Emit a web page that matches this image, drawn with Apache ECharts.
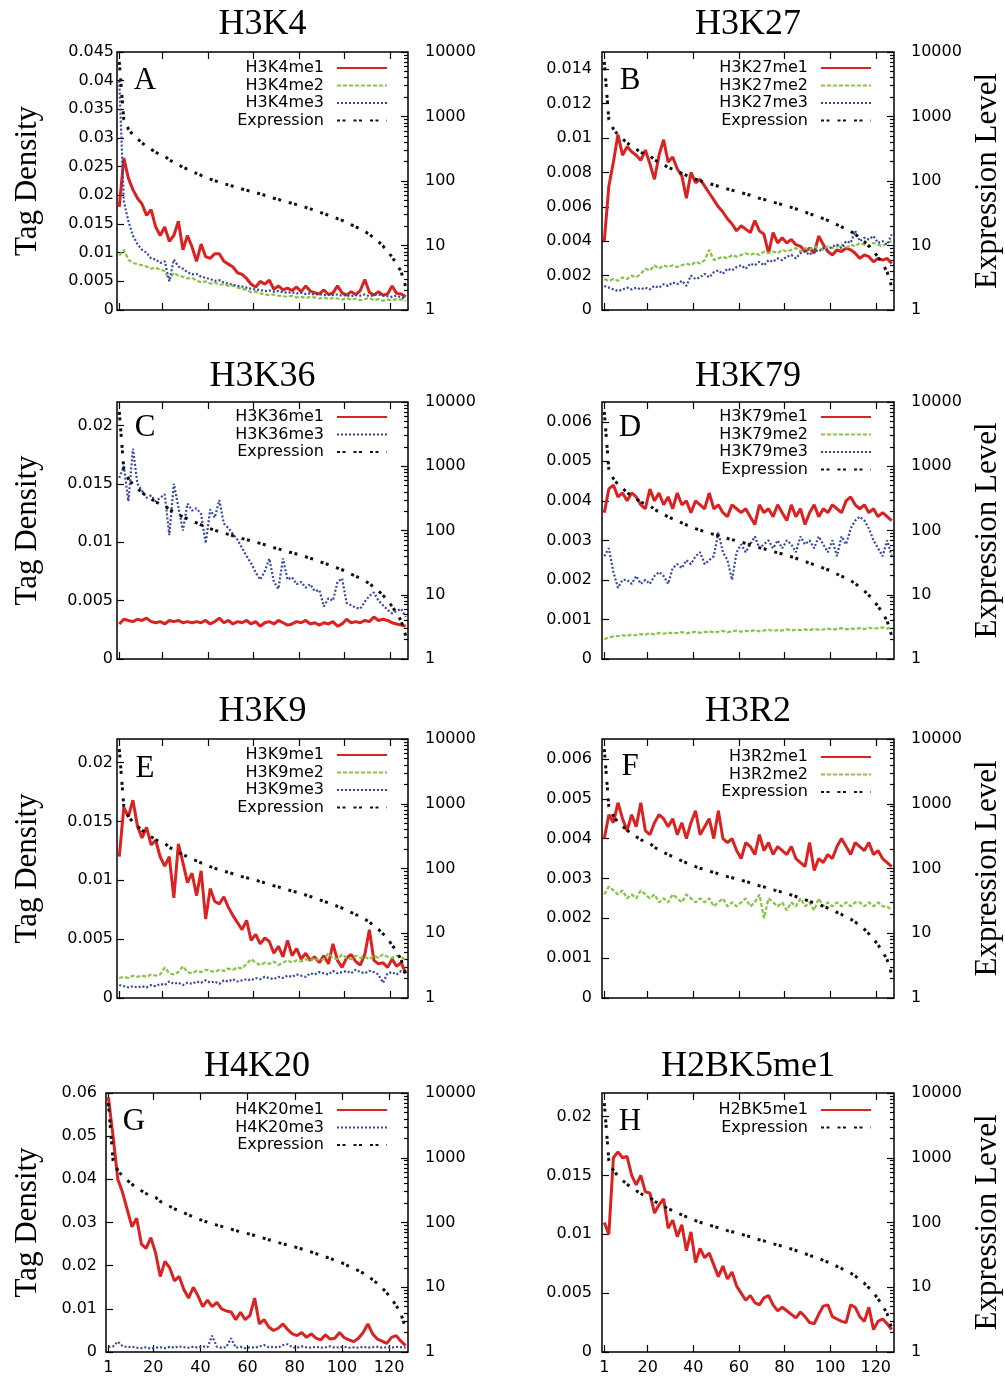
<!DOCTYPE html>
<html><head><meta charset="utf-8">
<script src="https://cdn.jsdelivr.net/npm/echarts@6/dist/echarts.min.js"></script>
<style>html,body{margin:0;padding:0;background:#fff}#c{width:1005px;height:1377px}</style>
</head><body><div id="c"></div>
<script>
// ---------- data ----------
const BIN_X = Array.from({length: 64}, (_, i) => 1 + 2 * i);   // gene-bin index (1..127)
const X_TICKS = [1, 20, 40, 60, 80, 100, 120];
const EXPR_MINOR_TICKS = [2,3,4,5,6,7,8,9,20,30,40,50,60,70,80,90,200,300,400,500,600,700,800,900,2000,3000,4000,5000,6000,7000,8000,9000];

const EXPRESSION = [7000,900,640,520,450,390,345,310,280,255,245,212,195,178,163,152,141,131,122,114,107,101,96,91,87,83,79,75,72,69,66,63,60,57,54,52,49,47,45,43,41,39,37,35,33,31,29.5,28,26,24.5,23,21,19.5,18,16.5,15,13,11.5,9.8,8.2,6.6,5.2,3.9,2.3];

const H3K4me1 = [0.018,0.0265,0.023,0.021,0.0195,0.0185,0.0165,0.0175,0.0145,0.013,0.0145,0.012,0.013,0.0155,0.0105,0.013,0.011,0.0085,0.0115,0.0093,0.009,0.0098,0.0098,0.0085,0.008,0.0075,0.0065,0.0062,0.0055,0.0045,0.004,0.005,0.0045,0.0052,0.0036,0.0042,0.0035,0.0038,0.0034,0.004,0.0032,0.0042,0.0033,0.003,0.0028,0.0035,0.0027,0.003,0.0042,0.003,0.0026,0.0032,0.0027,0.0034,0.0053,0.0031,0.0026,0.0032,0.0026,0.0028,0.0042,0.0029,0.0028,0.0023];
const H3K4me2 = [0.0095,0.0105,0.0088,0.0082,0.008,0.0078,0.0076,0.0072,0.0074,0.007,0.0068,0.0052,0.0065,0.006,0.0058,0.0055,0.0056,0.0052,0.0048,0.005,0.0046,0.0048,0.0044,0.0045,0.0042,0.0043,0.0039,0.0037,0.0035,0.0031,0.0032,0.0029,0.0027,0.0026,0.0027,0.0025,0.0024,0.0023,0.0025,0.0022,0.0023,0.0021,0.0023,0.0022,0.002,0.0022,0.0019,0.0021,0.002,0.0018,0.0021,0.0018,0.002,0.0017,0.0019,0.0021,0.0017,0.0019,0.0016,0.0018,0.0017,0.0019,0.0018,0.0016];
const H3K4me3 = [0.040,0.019,0.0155,0.013,0.0115,0.0105,0.010,0.009,0.0088,0.0082,0.0085,0.005,0.0088,0.0076,0.0072,0.0066,0.0062,0.0063,0.0058,0.0056,0.0054,0.0051,0.0052,0.0048,0.0046,0.0044,0.0042,0.0041,0.0039,0.0037,0.0036,0.0035,0.0033,0.0034,0.0032,0.0033,0.0031,0.003,0.0031,0.0029,0.003,0.0028,0.0029,0.0027,0.0028,0.0026,0.0027,0.0026,0.0027,0.0025,0.0026,0.0024,0.0026,0.0025,0.0027,0.0024,0.0026,0.0027,0.0025,0.0024,0.0023,0.0025,0.0022,0.002];

const H3K27me1 = [0.004,0.0072,0.0086,0.0102,0.009,0.0095,0.0092,0.009,0.0087,0.0093,0.0085,0.0076,0.009,0.0099,0.0086,0.0089,0.0082,0.0078,0.0065,0.008,0.0074,0.0076,0.0072,0.0068,0.0064,0.006,0.0057,0.0053,0.005,0.0046,0.0049,0.0047,0.0045,0.0052,0.0046,0.0044,0.0033,0.0045,0.0039,0.0042,0.0039,0.0041,0.0038,0.0037,0.0034,0.0036,0.0033,0.0043,0.0038,0.0034,0.0032,0.0035,0.0034,0.0036,0.0035,0.0033,0.003,0.0032,0.0031,0.0028,0.003,0.0029,0.003,0.0027];
const H3K27me2 = [0.0018,0.0017,0.0018,0.0017,0.0019,0.0018,0.002,0.0019,0.0021,0.0024,0.0023,0.0026,0.0024,0.0026,0.0025,0.0026,0.0025,0.0026,0.0027,0.0026,0.0028,0.0027,0.0029,0.0035,0.0029,0.003,0.0031,0.003,0.0032,0.0031,0.0032,0.0033,0.0032,0.0033,0.0032,0.0034,0.0033,0.0034,0.0033,0.0035,0.0034,0.0035,0.0036,0.0034,0.0036,0.0035,0.0037,0.0036,0.0035,0.0037,0.0036,0.0037,0.0038,0.0036,0.0038,0.0037,0.0039,0.0038,0.0037,0.0039,0.0038,0.0037,0.0039,0.004];
const H3K27me3 = [0.0014,0.0013,0.0012,0.0011,0.0012,0.0013,0.0012,0.0013,0.0012,0.0013,0.0012,0.0014,0.0013,0.0015,0.0014,0.0016,0.0015,0.0017,0.0014,0.002,0.0018,0.0019,0.0021,0.0019,0.0022,0.0023,0.0021,0.0024,0.0023,0.0025,0.0026,0.0024,0.0027,0.0026,0.0028,0.0026,0.0029,0.0028,0.003,0.0029,0.0031,0.0032,0.003,0.0033,0.0034,0.0032,0.0035,0.0034,0.0036,0.0035,0.0037,0.0038,0.0036,0.004,0.0039,0.0046,0.004,0.0042,0.0041,0.0043,0.0039,0.004,0.0038,0.0044];

const H3K36me1 = [0.003,0.0034,0.0033,0.0032,0.0034,0.0033,0.0035,0.0032,0.0031,0.0032,0.003,0.0033,0.0032,0.0033,0.0031,0.0032,0.0031,0.0032,0.0031,0.0033,0.003,0.0032,0.0035,0.0031,0.0033,0.003,0.0032,0.0031,0.0033,0.003,0.0032,0.0028,0.0031,0.0032,0.003,0.0033,0.0031,0.0029,0.003,0.0032,0.0031,0.0033,0.003,0.0031,0.0029,0.0031,0.003,0.0032,0.0028,0.003,0.0034,0.0031,0.0032,0.0031,0.0033,0.0032,0.0036,0.0033,0.0034,0.0033,0.0031,0.003,0.0029,0.0028];
const H3K36me3 = [0.0155,0.0165,0.0135,0.018,0.015,0.0144,0.0138,0.014,0.0135,0.0138,0.0141,0.0106,0.015,0.013,0.011,0.0133,0.0127,0.0129,0.0124,0.0099,0.0128,0.0121,0.0136,0.0116,0.0112,0.0107,0.0102,0.0095,0.0088,0.0082,0.0074,0.0068,0.0075,0.0086,0.0066,0.006,0.0086,0.0068,0.007,0.0064,0.0066,0.0061,0.0064,0.0058,0.0059,0.0045,0.0052,0.005,0.0066,0.0069,0.0048,0.0046,0.0044,0.0043,0.0049,0.0054,0.0057,0.005,0.0046,0.0042,0.0039,0.0041,0.0043,0.0036];

const H3K79me1 = [0.0037,0.0043,0.0044,0.0041,0.0042,0.004,0.0042,0.0041,0.0039,0.0038,0.0043,0.004,0.0042,0.0039,0.0041,0.0038,0.0042,0.0039,0.004,0.0037,0.004,0.0039,0.0038,0.0042,0.0038,0.0039,0.0037,0.0036,0.0039,0.0038,0.0037,0.0038,0.0036,0.0034,0.0039,0.0037,0.0038,0.0036,0.0039,0.0037,0.0035,0.0039,0.0036,0.0038,0.0034,0.0037,0.0039,0.0036,0.0038,0.0037,0.0039,0.0038,0.0037,0.004,0.0041,0.0039,0.0038,0.0039,0.0037,0.0038,0.0036,0.0037,0.0036,0.0035];
const H3K79me2 = [0.0005,0.00055,0.00057,0.00058,0.0006,0.00058,0.00062,0.0006,0.00063,0.00062,0.00065,0.00062,0.00066,0.00064,0.00067,0.00065,0.00066,0.00068,0.00065,0.00067,0.00069,0.00066,0.00068,0.0007,0.00067,0.00069,0.00071,0.00068,0.0007,0.00072,0.00069,0.00071,0.0007,0.00073,0.0007,0.00072,0.00074,0.00071,0.00073,0.00072,0.00075,0.00072,0.00074,0.00073,0.00075,0.00073,0.00076,0.00074,0.00075,0.00077,0.00074,0.00076,0.00078,0.00075,0.00077,0.00076,0.00078,0.00076,0.00079,0.00077,0.00078,0.0008,0.00077,0.00079];
const H3K79me3 = [0.0026,0.0028,0.0022,0.0018,0.002,0.002,0.0019,0.0021,0.0019,0.002,0.0019,0.0021,0.0022,0.0021,0.0019,0.0023,0.0024,0.0023,0.0025,0.0024,0.0026,0.0027,0.0024,0.0025,0.0026,0.0032,0.0027,0.0025,0.002,0.0027,0.0029,0.0027,0.0029,0.0031,0.0028,0.0029,0.003,0.0028,0.003,0.0028,0.003,0.0029,0.0027,0.0031,0.0029,0.003,0.0028,0.0031,0.0029,0.0027,0.003,0.0026,0.0031,0.0029,0.0033,0.0035,0.0036,0.0035,0.0033,0.003,0.0028,0.0026,0.003,0.0026];

const H3K9me1 = [0.012,0.0162,0.0154,0.0168,0.0146,0.0136,0.0145,0.013,0.0134,0.012,0.0112,0.012,0.0085,0.0131,0.0115,0.0098,0.0106,0.0087,0.0108,0.0067,0.0093,0.0082,0.008,0.0086,0.0077,0.007,0.0064,0.0058,0.0066,0.0049,0.0054,0.0046,0.0051,0.0048,0.0038,0.0044,0.0035,0.0049,0.0036,0.0042,0.0033,0.0038,0.0032,0.0035,0.003,0.0036,0.0029,0.0046,0.0032,0.0026,0.0034,0.0037,0.0031,0.0028,0.0037,0.0058,0.0032,0.0029,0.003,0.0026,0.0033,0.0027,0.003,0.0021];
const H3K9me2 = [0.0017,0.0018,0.0017,0.0019,0.0018,0.0019,0.0018,0.002,0.0019,0.002,0.0026,0.0021,0.002,0.0022,0.0027,0.0022,0.0021,0.0023,0.0022,0.0024,0.0023,0.0022,0.0024,0.0023,0.0025,0.0024,0.0026,0.0025,0.0029,0.0033,0.003,0.0028,0.003,0.0029,0.0031,0.0028,0.003,0.0032,0.003,0.0032,0.0031,0.0033,0.0032,0.0034,0.0032,0.0033,0.0038,0.0034,0.0033,0.0037,0.0034,0.0033,0.0036,0.0034,0.0035,0.0033,0.0036,0.0034,0.0037,0.0035,0.0034,0.0036,0.0035,0.0032];
const H3K9me3 = [0.0011,0.001,0.0009,0.001,0.0009,0.001,0.0009,0.0011,0.001,0.0012,0.0011,0.0014,0.0012,0.0013,0.0011,0.0013,0.0012,0.0014,0.0013,0.0015,0.0013,0.0014,0.0012,0.0015,0.0014,0.0016,0.0014,0.0015,0.0016,0.0015,0.0017,0.0016,0.0018,0.0017,0.0016,0.0018,0.0017,0.0019,0.0018,0.002,0.0019,0.0018,0.0021,0.002,0.0022,0.0021,0.002,0.0023,0.0021,0.0022,0.0023,0.0021,0.0024,0.0022,0.0021,0.0023,0.0022,0.002,0.0013,0.0021,0.0022,0.002,0.0023,0.0021];

const H3R2me1 = [0.004,0.0046,0.0044,0.0049,0.0045,0.0042,0.0046,0.0043,0.0049,0.0042,0.0041,0.0044,0.0046,0.0045,0.0043,0.0045,0.0041,0.0044,0.004,0.0044,0.0047,0.0041,0.0043,0.0045,0.004,0.0047,0.004,0.0039,0.004,0.0037,0.0035,0.0039,0.0038,0.0036,0.0041,0.0037,0.0039,0.0036,0.0038,0.0037,0.0036,0.0038,0.0035,0.0034,0.0033,0.0039,0.0032,0.0035,0.0034,0.0036,0.0035,0.0038,0.004,0.0038,0.0036,0.0039,0.0038,0.0037,0.0039,0.0036,0.0037,0.0035,0.0034,0.0033];
const H3R2me2 = [0.0026,0.0028,0.0027,0.0026,0.0027,0.0025,0.0026,0.0025,0.0027,0.0026,0.0025,0.0026,0.0024,0.0025,0.0024,0.0026,0.0025,0.0024,0.0026,0.0025,0.0024,0.0025,0.0024,0.0025,0.0023,0.0024,0.0025,0.0023,0.0024,0.0023,0.0024,0.0025,0.0023,0.0024,0.0026,0.002,0.0025,0.0024,0.0023,0.0024,0.0022,0.0024,0.0023,0.0025,0.0023,0.0024,0.0022,0.0025,0.0023,0.0024,0.0023,0.0024,0.0023,0.0024,0.0023,0.0024,0.0024,0.0023,0.0024,0.0023,0.0024,0.0023,0.0023,0.0022];

const H4K20me1 = [0.059,0.05,0.04,0.037,0.033,0.029,0.031,0.025,0.024,0.0265,0.023,0.0175,0.021,0.0195,0.0165,0.0175,0.0145,0.0125,0.015,0.013,0.0105,0.012,0.0105,0.0115,0.01,0.0095,0.0093,0.0075,0.0092,0.0075,0.0085,0.0125,0.0065,0.0075,0.0058,0.005,0.0055,0.0065,0.0052,0.0042,0.0038,0.0045,0.0034,0.0042,0.0032,0.0028,0.004,0.003,0.0032,0.0045,0.0033,0.0028,0.0024,0.0032,0.0045,0.0065,0.0042,0.003,0.0025,0.002,0.0034,0.0038,0.0025,0.0015];
const H4K20me3 = [0.0012,0.0013,0.0024,0.0014,0.0011,0.0012,0.001,0.0009,0.0011,0.0008,0.001,0.0011,0.0009,0.0012,0.001,0.0013,0.0011,0.001,0.0012,0.001,0.0013,0.0011,0.0038,0.0012,0.001,0.0011,0.0032,0.001,0.0012,0.0009,0.0011,0.001,0.0013,0.0016,0.0011,0.0012,0.001,0.0016,0.0018,0.0011,0.001,0.0013,0.0011,0.001,0.0012,0.001,0.0011,0.0013,0.001,0.0011,0.0012,0.001,0.0011,0.001,0.0012,0.001,0.0011,0.0012,0.001,0.0011,0.001,0.0012,0.0011,0.001];

const H2BK5me1 = [0.011,0.01,0.0165,0.017,0.0165,0.0166,0.015,0.0142,0.015,0.0136,0.0135,0.0118,0.0125,0.013,0.0105,0.0112,0.0098,0.0108,0.0086,0.0102,0.0076,0.0088,0.008,0.0084,0.0074,0.0064,0.0073,0.0062,0.0068,0.0056,0.005,0.0044,0.0048,0.0042,0.004,0.0046,0.0048,0.004,0.0035,0.0038,0.0035,0.0032,0.0029,0.0034,0.003,0.0025,0.0024,0.0032,0.0039,0.004,0.003,0.0028,0.0026,0.0025,0.004,0.0038,0.003,0.0026,0.0038,0.0019,0.0026,0.0028,0.0024,0.0019];

const TICKS_045 = [0,0.005,0.01,0.015,0.02,0.025,0.03,0.035,0.04,0.045];
const TICKS_014 = [0,0.002,0.004,0.006,0.008,0.01,0.012,0.014];
const TICKS_02  = [0,0.005,0.01,0.015,0.02];
const TICKS_006 = [0,0.001,0.002,0.003,0.004,0.005,0.006];
const TICKS_06  = [0,0.01,0.02,0.03,0.04,0.05,0.06];

const PANELS = [
  {title:'H3K4',  letter:'A', yMax:0.045, yTicks:TICKS_045, series:[['H3K4me1',H3K4me1,'me1'],['H3K4me2',H3K4me2,'me2'],['H3K4me3',H3K4me3,'me3']]},
  {title:'H3K27', letter:'B', yMax:0.015, yTicks:TICKS_014, series:[['H3K27me1',H3K27me1,'me1'],['H3K27me2',H3K27me2,'me2'],['H3K27me3',H3K27me3,'me3']]},
  {title:'H3K36', letter:'C', yMax:0.022, yTicks:TICKS_02,  series:[['H3K36me1',H3K36me1,'me1'],['H3K36me3',H3K36me3,'me3']]},
  {title:'H3K79', letter:'D', yMax:0.0065,yTicks:TICKS_006, series:[['H3K79me1',H3K79me1,'me1'],['H3K79me2',H3K79me2,'me2'],['H3K79me3',H3K79me3,'me3']]},
  {title:'H3K9',  letter:'E', yMax:0.022, yTicks:TICKS_02,  series:[['H3K9me1',H3K9me1,'me1'],['H3K9me2',H3K9me2,'me2'],['H3K9me3',H3K9me3,'me3']]},
  {title:'H3R2',  letter:'F', yMax:0.0065,yTicks:TICKS_006, series:[['H3R2me1',H3R2me1,'me1'],['H3R2me2',H3R2me2,'me2']]},
  {title:'H4K20', letter:'G', yMax:0.06,  yTicks:TICKS_06,  series:[['H4K20me1',H4K20me1,'me1'],['H4K20me3',H4K20me3,'me3']]},
  {title:'H2BK5me1', letter:'H', yMax:0.022, yTicks:TICKS_02, series:[['H2BK5me1',H2BK5me1,'me1']]}
];

// ---------- layout & style ----------
const LAYOUT = [
  {left:117, top:52,   width:291, height:258, titleY:25,   letterDy:29, legendDy:16, labelMargin:3,  col:0, xLabels:false},
  {left:602, top:52,   width:292, height:258, titleY:25,   letterDy:29, legendDy:16, labelMargin:10, col:1, xLabels:false},
  {left:117, top:402,  width:291, height:257, titleY:377,  letterDy:26, legendDy:15, labelMargin:4,  col:0, xLabels:false},
  {left:602, top:402,  width:292, height:257, titleY:377,  letterDy:26, legendDy:15, labelMargin:10, col:1, xLabels:false},
  {left:117, top:739,  width:291, height:259, titleY:712,  letterDy:30, legendDy:16, labelMargin:4,  col:0, xLabels:false},
  {left:602, top:739,  width:292, height:259, titleY:712,  letterDy:28, legendDy:18, labelMargin:10, col:1, xLabels:false},
  {left:106, top:1093, width:302, height:259, titleY:1067, letterDy:29, legendDy:17, labelMargin:9,  col:0, xLabels:true},
  {left:602, top:1093, width:292, height:259, titleY:1067, letterDy:29, legendDy:17, labelMargin:10, col:1, xLabels:true}
];
const STYLE = {
  me1:  {color:'#dc2121', width:3,   type:'solid'},
  me2:  {color:'#86c446', width:2.2, type:[4,2]},
  me3:  {color:'#3446a8', width:2.2, type:[2,2]},
  expr: {color:'#111111', width:3,   type:[3,2.5,3,8]}
};
const SANS = 'DejaVu Sans';
const SERIF = 'Liberation Serif';
const tickLine = {color:'#000', width:1.2};

const option = {animation:false, backgroundColor:'#fff', grid:[], xAxis:[], yAxis:[], series:[], legend:[], graphic:[]};

PANELS.forEach((p, k) => {
  const L = LAYOUT[k];
  option.grid.push({left:L.left, top:L.top, width:L.width, height:L.height, show:true,
    borderColor:'#000', borderWidth:1.5, containLabel:false, outerBoundsMode:'none'});
  // bottom & top x axes
  ['bottom','top'].forEach(pos => {
    option.xAxis.push({gridIndex:k, type:'value', min:0, max:128, position:pos,
      axisLine:{show:false, onZero:false}, splitLine:{show:false},
      axisTick:{show:true, inside:true, length:7, customValues:X_TICKS, lineStyle:tickLine},
      axisLabel:{show: pos === 'bottom' && L.xLabels, customValues:X_TICKS, margin:8,
        fontFamily:SANS, fontSize:16, color:'#000'}});
  });
  // left tag density axis
  option.yAxis.push({gridIndex:k, type:'value', min:0, max:p.yMax, position:'left',
    axisLine:{show:false, onZero:false}, splitLine:{show:false},
    axisTick:{show:true, inside:true, length:7, customValues:p.yTicks, lineStyle:tickLine},
    axisLabel:{show:true, customValues:p.yTicks, margin:L.labelMargin, fontFamily:SANS, fontSize:16, color:'#000',
      formatter: v => String(v)}});
  // right expression axis (log)
  option.yAxis.push({gridIndex:k, type:'log', logBase:10, min:1, max:10000, position:'right',
    axisLine:{show:false, onZero:false}, splitLine:{show:false},
    axisTick:{show:true, inside:true, length:7, lineStyle:tickLine},
    axisLabel:{show:true, margin:17, fontFamily:SANS, fontSize:16, color:'#000',
      formatter: v => String(Math.round(v))}});
  // minor log ticks helper (log10 space)
  option.yAxis.push({gridIndex:k, type:'value', min:0, max:4, position:'right',
    axisLine:{show:false, onZero:false}, splitLine:{show:false}, axisLabel:{show:false},
    axisTick:{show:true, inside:true, length:4, customValues:EXPR_MINOR_TICKS.map(Math.log10), lineStyle:tickLine}});

  const names = [];
  p.series.forEach(([name, arr, kind]) => {
    const s = STYLE[kind];
    names.push(name);
    option.series.push({type:'line', name, xAxisIndex:2*k, yAxisIndex:3*k,
      data: arr.map((v, i) => [BIN_X[i], v]), symbol:'none', showSymbol:false, clip:true, z:2,
      itemStyle:{color:s.color}, lineStyle:{color:s.color, width:s.width, type:s.type}});
  });
  const e = STYLE.expr;
  option.series.push({type:'line', name:'Expression', xAxisIndex:2*k, yAxisIndex:3*k+1,
    data: EXPRESSION.map((v, i) => [BIN_X[i], v]), symbol:'none', showSymbol:false, clip:true, z:3,
    itemStyle:{color:e.color}, lineStyle:{color:e.color, width:e.width, type:e.type}});
  names.push('Expression');

  option.legend.push({data:names, orient:'vertical', align:'right',
    right: L.col === 0 ? 617 : 133, top: L.top + L.legendDy - 8.75,
    itemWidth:50, itemHeight:14, itemGap:0, padding:0, selectedMode:false,
    itemStyle:{opacity:0},
    textStyle:{fontFamily:SANS, fontSize:16, color:'#000', lineHeight:17.5, padding:[0,8,0,0]}});

  const cx = L.left + L.width / 2, cy = L.top + L.height / 2;
  option.graphic.push({type:'text', x:cx, y:L.titleY, silent:true,
    style:{text:p.title, fontFamily:SERIF, fontSize:36, fill:'#000', align:'center', verticalAlign:'middle'}});
  option.graphic.push({type:'text', x:L.left + 28, y:L.top + L.letterDy, silent:true,
    style:{text:p.letter, fontFamily:SERIF, fontSize:31, fill:'#000', align:'center', verticalAlign:'middle'}});
  option.graphic.push({type:'text', x: L.col === 0 ? 28 : 988, y:cy, rotation:Math.PI/2, silent:true,
    style:{text: L.col === 0 ? 'Tag Density' : 'Expression Level', fontFamily:SERIF, fontSize:31, fill:'#000',
      align:'center', verticalAlign:'middle'}});
});

const chart = echarts.init(document.getElementById('c'), null, {renderer:'canvas', width:1005, height:1377});
chart.setOption(option);
</script>
</body></html>
